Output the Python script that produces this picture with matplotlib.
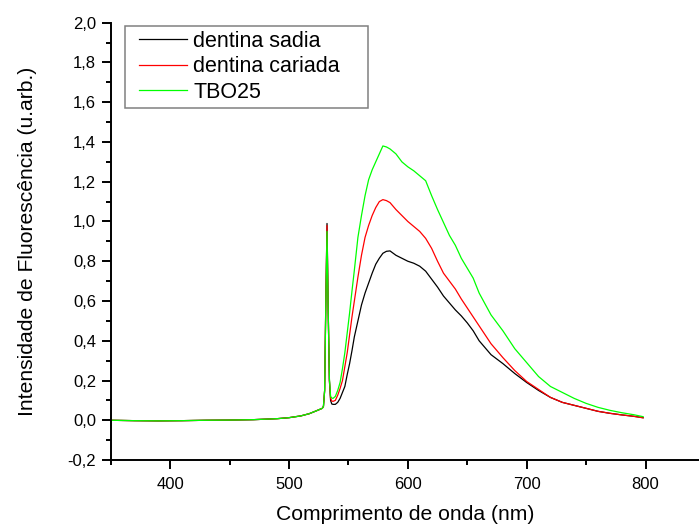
import matplotlib
matplotlib.use("Agg")
import matplotlib.pyplot as plt
import matplotlib.ticker as ticker
from matplotlib.legend_handler import HandlerLine2D

plt.rcParams['font.family'] = ['Liberation Sans', 'DejaVu Sans']

# wavelength (nm)
wl = [350, 370, 390, 410, 430, 450, 470, 490, 500, 510, 517, 522, 526, 528,
      529, 530, 531, 532, 533, 534, 535, 536, 537, 539, 541, 543, 545, 547,
      549, 551, 553, 555, 558, 561, 564, 567, 570, 573, 576, 579, 582, 585,
      590, 595, 600, 605, 610, 615, 620, 625, 630, 635, 640, 645, 650, 655,
      660, 670, 680, 690, 700, 710, 720, 730, 740, 750, 760, 770, 780, 790, 798]

base = [0.0, -0.002, -0.003, -0.002, 0.0, 0.001, 0.003, 0.008, 0.013, 0.022,
        0.033, 0.045, 0.055, 0.06, 0.07, 0.15]

sadia = base + [0.6, 0.99, 0.55, 0.2, 0.1, 0.082, 0.08, 0.08, 0.09, 0.11, 0.14, 0.17,
                0.23, 0.285, 0.35, 0.42, 0.50, 0.58, 0.64, 0.69, 0.74, 0.785, 0.815,
                0.84, 0.85, 0.852, 0.83, 0.815, 0.80, 0.79, 0.775, 0.75, 0.71, 0.67,
                0.625, 0.59, 0.555, 0.525, 0.49, 0.45, 0.40, 0.33, 0.285, 0.235,
                0.19, 0.15, 0.115, 0.09, 0.075, 0.06, 0.045, 0.035, 0.027, 0.02, 0.013]

cariada = base + [0.6, 0.98, 0.55, 0.2, 0.11, 0.097, 0.095, 0.1, 0.126, 0.16, 0.20, 0.27,
                  0.34, 0.43, 0.52, 0.60, 0.72, 0.83, 0.92, 0.98, 1.03, 1.07, 1.10,
                  1.11, 1.105, 1.095, 1.06, 1.03, 1.0, 0.975, 0.95, 0.915, 0.865, 0.80,
                  0.74, 0.70, 0.66, 0.61, 0.565, 0.52, 0.475, 0.385, 0.315, 0.25,
                  0.195, 0.155, 0.115, 0.09, 0.075, 0.06, 0.045, 0.035, 0.027, 0.02, 0.012]

tbo25 = base + [0.58, 0.95, 0.55, 0.21, 0.12, 0.112, 0.11, 0.12, 0.15, 0.19, 0.26, 0.34,
                0.44, 0.54, 0.65, 0.755, 0.92, 1.03, 1.13, 1.21, 1.26, 1.30, 1.34,
                1.38, 1.375, 1.365, 1.34, 1.30, 1.275, 1.255, 1.23, 1.205, 1.13, 1.06,
                0.995, 0.93, 0.88, 0.815, 0.765, 0.715, 0.64, 0.53, 0.45, 0.36,
                0.29, 0.22, 0.17, 0.14, 0.11, 0.085, 0.065, 0.05, 0.038, 0.028, 0.018]

labels = ['dentina sadia', 'dentina cariada', 'TBO25']
colors = ['black', '#ff0000', '#00ff00']


# legend line with some extra room on its left
class PaddedLine(HandlerLine2D):
    def create_artists(self, legend, orig_handle, xdescent, ydescent, width,
                       height, fontsize, trans):
        pad = 0.45 * fontsize
        return super().create_artists(legend, orig_handle, xdescent - pad, ydescent,
                                      width - pad, height, fontsize, trans)


fig = plt.figure(figsize=(6.99, 5.27), dpi=100)
ax = fig.add_axes([0.1584, 0.1271, 0.8416, 0.8298])

for y, lab, c in zip([sadia, cariada, tbo25], labels, colors):
    ax.plot(wl, y, color=c, lw=0.9, label=lab)

ax.set_xlim(350, 845)
ax.set_ylim(-0.2, 2.0)
ax.xaxis.set_major_locator(ticker.MultipleLocator(100))
ax.xaxis.set_minor_locator(ticker.MultipleLocator(50))
ax.yaxis.set_major_locator(ticker.MultipleLocator(0.2))
ax.yaxis.set_minor_locator(ticker.MultipleLocator(0.1))
ax.yaxis.set_major_formatter(ticker.FuncFormatter(lambda v, p: f"{v:.1f}".replace('.', ',').replace('-0,0', '0,0')))

for s in ['top', 'right']:
    ax.spines[s].set_visible(False)
for s in ['left', 'bottom']:
    ax.spines[s].set_linewidth(1.4)
ax.tick_params(which='major', length=6.5, width=1.4, labelsize=12, pad=4)
ax.tick_params(which='minor', length=3.6, width=1.4)
ax.tick_params(axis='x', which='major', pad=6)

ax.set_xlabel('Comprimento de onda (nm)', fontsize=15.2, labelpad=9)
ax.set_ylabel('Intensidade de Fluorescência (u.arb.)', fontsize=15.2, labelpad=22)

leg = ax.legend(loc='upper left', bbox_to_anchor=(0.0235, 0.0, 0.414, 0.993),
                mode='expand', borderaxespad=0, fontsize=15.5, fancybox=False,
                handlelength=2.68, handletextpad=0.28, labelspacing=0.2,
                borderpad=0.24, handler_map={plt.Line2D: PaddedLine()})
leg.get_frame().set_edgecolor('#606060')
leg.get_frame().set_linewidth(1.1)

fig.savefig('out.png', dpi=100)
